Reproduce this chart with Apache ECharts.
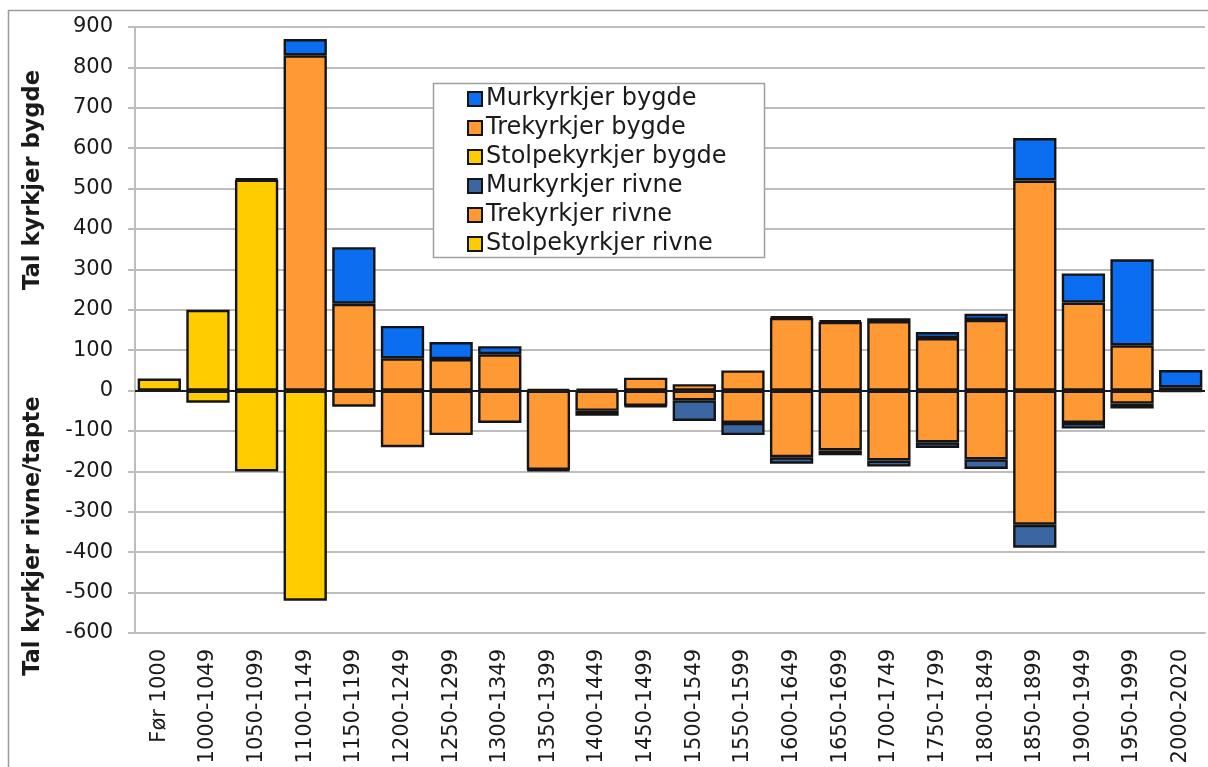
<!DOCTYPE html>
<html>
<head>
<meta charset="utf-8">
<script src="https://cdn.jsdelivr.net/npm/echarts@6/dist/echarts.min.js"></script>
<style>
html,body{margin:0;padding:0;background:#fff;}
#chart{width:1208px;height:767px;}
</style>
</head>
<body>
<div id="chart"></div>
<script>
const categories = ['Før 1000','1000-1049','1050-1099','1100-1149','1150-1199','1200-1249','1250-1299','1300-1349','1350-1399','1400-1449','1450-1499','1500-1549','1550-1599','1600-1649','1650-1699','1700-1749','1750-1799','1800-1849','1850-1899','1900-1949','1950-1999','2000-2020'];
const stolpeBygde = [30,200,522,0,0,0,0,0,0,0,0,0,0,0,0,0,0,0,0,0,0,0];
const treBygde    = [0,0,3,830,215,80,78,90,3,5,32,16,50,180,170,172,130,175,520,218,112,8];
const murBygde    = [0,0,0,40,140,80,42,20,0,0,0,0,0,3,4,7,15,15,105,72,213,43];
const stolpeRivne = [0,-30,-200,-520,0,0,0,0,0,0,0,0,0,0,0,0,0,0,0,0,0,0];
const treRivne    = [0,0,0,0,-40,-140,-110,-80,-196,-50,-38,-24,-80,-165,-148,-173,-128,-170,-332,-80,-32,-2];
const murRivne    = [0,0,0,0,0,0,0,0,-2,-12,-2,-51,-30,-16,-12,-15,-14,-24,-57,-14,-12,0];
const yTicks = {min:-600, max:900, interval:100};

const FONT = 'DejaVu Sans';
const COL = {mur:'#0b6ef0', tre:'#ff9933', stolpe:'#ffcc00', murR:'#3a67a2'};
function nz(a){ return a.map(v => v === 0 ? '-' : v); }
function bar(name, data, color){
  return {
    name, type:'bar', stack:'all', data:nz(data),
    barCategoryGap:'11%',
    itemStyle:{color, borderColor:'#141414', borderWidth:2.4},
    emphasis:{disabled:true}
  };
}
const series = [
  bar('Stolpekyrkjer bygde', stolpeBygde, COL.stolpe),
  bar('Trekyrkjer bygde', treBygde, COL.tre),
  bar('Murkyrkjer bygde', murBygde, COL.mur),
  bar('Stolpekyrkjer rivne', stolpeRivne, COL.stolpe),
  bar('Trekyrkjer rivne', treRivne, COL.tre),
  bar('Murkyrkjer rivne', murRivne, COL.murR)
];
series[0].markLine = {
  silent:true, symbol:['none','none'], label:{show:false},
  lineStyle:{color:'#1a1a1a', width:2, type:'solid'},
  data:[{yAxis:0}]
};

const chart = echarts.init(document.getElementById('chart'), null, {renderer:'canvas'});
chart.setOption({
  animation:false,
  backgroundColor:'#fff',
  textStyle:{fontFamily:FONT},
  grid:{left:135, right:3, top:27, bottom:134, containLabel:false},
  legend:{
    orient:'vertical', left:467, top:87, padding:0,
    itemWidth:14, itemHeight:14, itemGap:5,
    icon:'rect', z:10,
    itemStyle:{borderWidth:2},
    data:['Murkyrkjer bygde','Trekyrkjer bygde','Stolpekyrkjer bygde','Murkyrkjer rivne','Trekyrkjer rivne','Stolpekyrkjer rivne'],
    textStyle:{fontFamily:FONT, fontSize:24, lineHeight:24, color:'#1a1a1a', padding:[0,0,0,-1]},
    selectedMode:false
  },
  xAxis:{
    type:'category', data:categories,
    axisLine:{onZero:false, lineStyle:{color:'#bdbdbd', width:2}},
    axisTick:{show:false},
    axisLabel:{rotate:90, fontFamily:FONT, fontSize:21, color:'#1a1a1a', margin:16, interval:0}
  },
  yAxis:{
    type:'value', min:yTicks.min, max:yTicks.max, interval:yTicks.interval,
    axisLine:{show:true, lineStyle:{color:'#bdbdbd', width:2}},
    axisTick:{show:true, length:7, lineStyle:{color:'#bdbdbd', width:2}},
    axisLabel:{fontFamily:FONT, fontSize:21, color:'#1a1a1a', margin:22},
    splitLine:{lineStyle:{color:'#bdbdbd', width:2}}
  },
  graphic:[
    {type:'rect', shape:{x:8.5, y:10.5, width:1220, height:780}, style:{fill:'none', stroke:'#9a9a9a', lineWidth:1.5}, z:1, silent:true},
    {type:'rect', shape:{x:433.5, y:83.5, width:331, height:174}, style:{fill:'#fff', stroke:'#a0a0a0', lineWidth:1.5}, z:5, silent:true},
    {type:'text', x:33, y:180, rotation:Math.PI/2, style:{text:'Tal kyrkjer bygde', fontFamily:FONT, fontWeight:'bold', fontSize:22.6, fill:'#1a1a1a', textAlign:'center', textVerticalAlign:'middle'}, z:5},
    {type:'text', x:33, y:536, rotation:Math.PI/2, style:{text:'Tal kyrkjer rivne/tapte', fontFamily:FONT, fontWeight:'bold', fontSize:22.3, fill:'#1a1a1a', textAlign:'center', textVerticalAlign:'middle'}, z:5}
  ],
  series
});
</script>
</body>
</html>
